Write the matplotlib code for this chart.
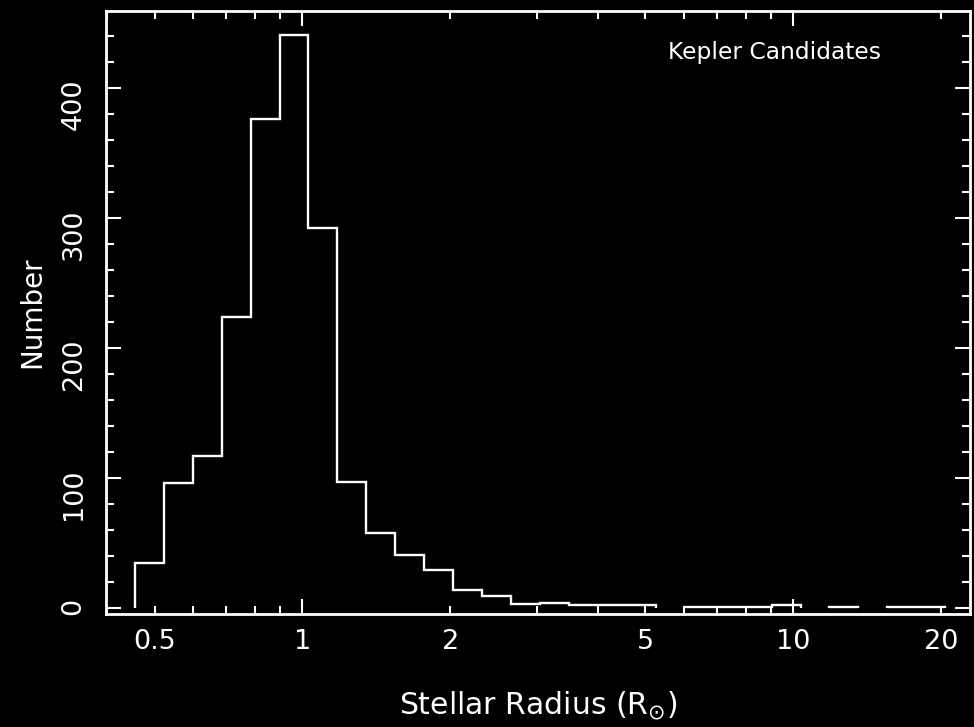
import numpy as np
import matplotlib
matplotlib.use('Agg')
import matplotlib.pyplot as plt
from matplotlib.ticker import FixedLocator, FixedFormatter, NullFormatter

# histogram bin edges (stellar radius, solar units)
BIN_EDGES = [0.456, 0.522, 0.598, 0.685, 0.784, 0.899, 1.029, 1.179, 1.350,
             1.547, 1.772, 2.029, 2.324, 2.662, 3.049, 3.493, 4.000, 4.581,
             5.248, 6.010, 6.885, 7.885, 9.032, 10.35, 11.85, 13.57, 15.54,
             17.81, 20.39]
# number of candidates per bin
COUNTS = [35, 96, 117, 224, 376, 441, 292, 97, 58, 41, 29, 14, 9, 3, 4,
          2, 2, 2, 0, 1, 1, 1, 2, 0, 1, 0, 1, 1]

# axis tick labels
X_MAJOR = [1, 10]
X_MINOR = [0.4, 0.5, 0.6, 0.7, 0.8, 0.9, 2, 3, 4, 5, 6, 7, 8, 9, 20]
X_MINOR_LABELS = ['', '0.5', '', '', '', '', '2', '', '', '5', '', '', '', '', '20']
Y_MAJOR = [0, 100, 200, 300, 400]

FG = 'white'
BG = 'black'

plt.rcParams['font.family'] = ['DejaVu Sans']
plt.rcParams['mathtext.fontset'] = 'dejavusans'

fig = plt.figure(figsize=(9.74, 7.27), dpi=100, facecolor=BG)
ax = fig.add_axes([0.1088, 0.1554, 0.8870, 0.8300], facecolor=BG)

# empty bins are left out so the tail is drawn as separate pieces
counts = np.array(COUNTS, dtype=float)
counts[counts == 0] = np.nan
ax.stairs(counts, BIN_EDGES, baseline=0, color=FG, linewidth=1.7)

ax.set_xscale('log')
ax.set_xlim(0.398, 22.9)
ax.set_ylim(-4.6, 459.6)

# log axis: long ticks only at decades, labels also on 0.5, 2, 5, 20
ax.xaxis.set_major_locator(FixedLocator(X_MAJOR))
ax.xaxis.set_major_formatter(FixedFormatter(['1', '10']))
ax.xaxis.set_minor_locator(FixedLocator(X_MINOR))
ax.xaxis.set_minor_formatter(FixedFormatter(X_MINOR_LABELS))
ax.yaxis.set_major_locator(FixedLocator(Y_MAJOR))
ax.yaxis.set_minor_locator(FixedLocator(np.arange(0, 460, 20)))
ax.yaxis.set_minor_formatter(NullFormatter())

for spine in ax.spines.values():
    spine.set_color(FG)
    spine.set_linewidth(2.0)

ax.tick_params(which='both', direction='in', top=True, right=True,
               colors=FG, width=1.5, labelsize=19.5)
ax.tick_params(which='major', length=11)
ax.tick_params(which='minor', length=6)
ax.tick_params(axis='x', which='both', pad=11)
ax.tick_params(axis='y', which='both', pad=14, labelrotation=90)

ax.set_xlabel(r'Stellar Radius (R$_{\odot}$)', color=FG, fontsize=21.5)
ax.xaxis.label.set_va('baseline')
ax.xaxis.set_label_coords(0.5, -0.1657)
ax.set_ylabel('Number', color=FG, fontsize=20)
ax.yaxis.label.set_va('baseline')
ax.yaxis.set_label_coords(-0.0764, 0.5)

ax.text(0.651, 0.9197, 'Kepler Candidates', color=FG, fontsize=16.8,
        transform=ax.transAxes, ha='left', va='baseline')

fig.savefig('out.png', dpi=100, facecolor=BG)
